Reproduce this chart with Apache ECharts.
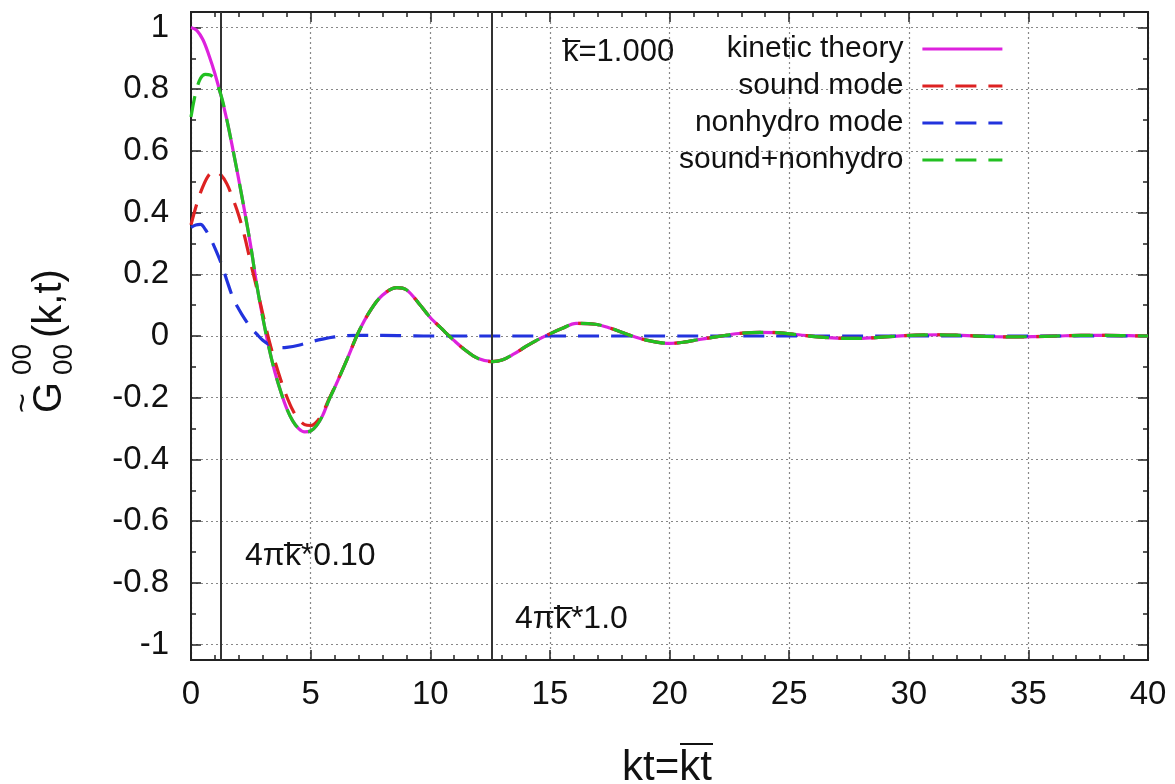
<!DOCTYPE html>
<html>
<head>
<meta charset="utf-8">
<script src="https://cdn.jsdelivr.net/npm/echarts@6/dist/echarts.min.js"></script>
<style>
html,body{margin:0;padding:0;background:#fff;}
#chart{width:1175px;height:784px;}
</style>
</head>
<body>
<div id="chart"></div>
<script>
// ---- data ----
const seriesNames = ['kinetic theory', 'sound mode', 'nonhydro mode', 'sound+nonhydro'];

const kineticT = [0,0.25,0.5,0.75,1,1.25,1.5,1.75,2,2.25,2.5,2.75,3,3.25,3.5,3.75,4,4.25,4.5,4.75,5,5.25,5.5,5.75,6,6.5,7,7.5,8,8.6,9,9.5,10,10.5,11,11.5,12,12.6,13,13.5,14,14.5,15,15.5,16.1,16.9,17.5,18,18.6,19.2,20,20.6,21.2,22,22.9,23.8,24.5,25.4,26.2,27,27.8,28.6,29.4,30.3,31.2,32.2,33.2,34.2,35.2,36.2,37.2,38.2,39.2,40];
const kineticG = [1.0,0.99,0.96,0.91,0.85,0.78,0.70,0.605,0.505,0.40,0.29,0.165,0.06,-0.035,-0.115,-0.18,-0.235,-0.275,-0.30,-0.311,-0.308,-0.29,-0.258,-0.21,-0.168,-0.08,0.012,0.083,0.132,0.157,0.15,0.108,0.06,0.022,-0.015,-0.048,-0.073,-0.083,-0.078,-0.058,-0.034,-0.012,0.007,0.024,0.041,0.038,0.026,0.012,-0.004,-0.016,-0.024,-0.02,-0.012,-0.002,0.008,0.012,0.011,0.004,-0.003,-0.007,-0.008,-0.005,-0.001,0.003,0.004,0.002,-0.001,-0.003,-0.002,0.0,0.002,0.002,0.001,0.0];

const soundHeadT = [0,0.25,0.5,0.75,1,1.25,1.5,1.75,2,2.25,2.5,2.75,3,3.25,3.5,3.75,4,4.25,4.5,4.75,5,5.25,5.5,5.75,6,6.5];
const soundHeadG = [0.36,0.43,0.485,0.522,0.534,0.522,0.493,0.445,0.39,0.32,0.235,0.155,0.072,-0.01,-0.08,-0.142,-0.196,-0.24,-0.27,-0.287,-0.29,-0.278,-0.25,-0.207,-0.166,-0.08];

const nonhydroT = [0,0.2,0.4,0.6,0.8,1,1.25,1.5,1.75,2,2.25,2.5,2.75,3,3.25,3.5,3.75,4,4.5,5,5.5,6,6.5,7,8,9,10,20,30,40];
const nonhydroG = [0.352,0.36,0.362,0.345,0.318,0.285,0.238,0.18,0.125,0.087,0.055,0.027,0.006,-0.014,-0.027,-0.035,-0.038,-0.037,-0.03,-0.019,-0.01,-0.003,0.001,0.002,0.002,0.001,0,0,0,0];

const comboHeadT = [0,0.2,0.4,0.6,0.8,1,1.25];
const comboHeadG = [0.71,0.79,0.835,0.848,0.846,0.83,0.782];

const markerLines = [1.2566, 12.566];
const xTicks = {min: 0, max: 40, interval: 5};
const yMajorTicks = [-1,-0.8,-0.6,-0.4,-0.2,0,0.2,0.4,0.6,0.8,1];
const yMinorTicks = [-0.9,-0.7,-0.5,-0.3,-0.1,0.1,0.3,0.5,0.7,0.9];

// ---- build ----
function pairs(xs, ys){ return xs.map((x,i)=>[x, ys[i]]); }
const kineticData = pairs(kineticT, kineticG);
const soundData = pairs(soundHeadT, soundHeadG).concat(kineticData.filter(p=>p[0]>6.5));
const nonhydroData = pairs(nonhydroT, nonhydroG);
const comboData = pairs(comboHeadT, comboHeadG).concat(kineticData.filter(p=>p[0]>1.25));

const FONT = '"Liberation Sans", Arial, sans-serif';
const TXT = '#111';
const colors = {k:'#dd22dd', s:'#dd2222', n:'#2233dd', c:'#22c022'};
const DASH = [21,12];
const LW = 3.2;

const chart = echarts.init(document.getElementById('chart'), null, {renderer:'canvas'});

function yAx(pos, ticks, len, labels){
  return {
    type:'value', position:pos, min:-1.05, max:1.05,
    axisLine:{show:true, onZero:false, lineStyle:{color:'#222', width:2}},
    axisTick:{show:true, inside:true, length:len, customValues:ticks, lineStyle:{color:'#222', width:1.5}},
    axisLabel:{show:labels, customValues:ticks, fontSize:33, fontFamily:FONT, color:TXT, margin:22},
    splitLine:{show:labels, lineStyle:{color:'#888', type:[2,3], width:1.2}},
    minorTick:{show:false}
  };
}
function xAx(pos, labels){
  return {
    type:'value', position:pos, min:xTicks.min, max:xTicks.max, interval:xTicks.interval,
    axisLine:{show:true, onZero:false, lineStyle:{color:'#222', width:2}},
    axisTick:{show:true, inside:true, length:10, lineStyle:{color:'#222', width:1.5}},
    minorTick:{show:true, splitNumber:5, length:5, lineStyle:{color:'#222', width:1.5}},
    axisLabel:{show:labels, fontSize:33, fontFamily:FONT, color:TXT, margin:18},
    splitLine:{show:labels, lineStyle:{color:'#888', type:[2,3], width:1.2}}
  };
}

function lineSeries(name, data, color, dash, z){
  return {
    name, type:'line', data, symbol:'none', showSymbol:false, smooth:0.35,
    xAxisIndex:0, yAxisIndex:0, z,
    lineStyle:{color, width:LW, type:dash},
    itemStyle:{color}
  };
}

const legendRows = [44, 81, 118, 155];
const legends = seriesNames.map((n,i)=>({
  data:[n], right:166, top:legendRows[i]-15, align:'right', orient:'horizontal',
  itemWidth:80, itemHeight:14, selectedMode:false,
  itemStyle:{opacity:0},
  lineStyle:{width:LW},
  textStyle:{fontSize:30, fontFamily:FONT, color:TXT, lineHeight:30, padding:[0,14,0,0]}
}));

const kSeries = lineSeries(seriesNames[0], kineticData, colors.k, 'solid', 2);
kSeries.markLine = {
  silent:true, symbol:['none','none'], label:{show:false},
  lineStyle:{color:'#333', width:2, type:'solid'},
  data: markerLines.map(v=>({xAxis:v}))
};

const option = {
  animation:false,
  backgroundColor:'#fff',
  grid:{left:191, right:27, top:12, bottom:124, containLabel:false},
  xAxis:[xAx('bottom', true), xAx('top', false)],
  yAxis:[yAx('left', yMajorTicks, 10, true), yAx('left', yMinorTicks, 5, false),
         yAx('right', yMajorTicks, 10, false), yAx('right', yMinorTicks, 5, false)],
  legend:legends,
  series:[
    kSeries,
    lineSeries(seriesNames[2], nonhydroData, colors.n, DASH, 3),
    lineSeries(seriesNames[1], soundData, colors.s, DASH, 4),
    lineSeries(seriesNames[3], comboData, colors.c, DASH, 5)
  ],
  graphic:[
    {type:'text', x:50, y:413, rotation:Math.PI/2, style:{text:'G', font:'40px '+FONT, fill:TXT, align:'left', verticalAlign:'middle'}},
    {type:'text', x:24, y:413, rotation:Math.PI/2, style:{text:'~', font:'34px '+FONT, fill:TXT, align:'left', verticalAlign:'middle'}},
    {type:'text', x:23, y:375, rotation:Math.PI/2, style:{text:'00', font:'28px '+FONT, fill:TXT, align:'left', verticalAlign:'middle'}},
    {type:'text', x:64, y:375, rotation:Math.PI/2, style:{text:'00', font:'28px '+FONT, fill:TXT, align:'left', verticalAlign:'middle'}},
    {type:'text', x:50, y:338, rotation:Math.PI/2, style:{text:'(k,t)', font:'40px '+FONT, fill:TXT, align:'left', verticalAlign:'middle'}},
    {type:'text', x:563, y:52, style:{text:'k\u0305=1.000', font:'31px '+FONT, fill:TXT, align:'left', verticalAlign:'middle'}},
    {type:'text', x:245, y:556, style:{text:'4\u03C0k\u0305*0.10', font:'32px '+FONT, fill:TXT, align:'left', verticalAlign:'middle'}},
    {type:'text', x:515, y:619, style:{text:'4\u03C0k\u0305*1.0', font:'32px '+FONT, fill:TXT, align:'left', verticalAlign:'middle'}},
    {type:'text', x:622, y:768, style:{text:'kt=kt', font:'42px '+FONT, fill:TXT, align:'left', verticalAlign:'middle'}},
    {type:'line', shape:{x1:680, y1:744, x2:713, y2:744}, style:{stroke:TXT, lineWidth:2.2}}
  ]
};
chart.setOption(option);
</script>
</body>
</html>
